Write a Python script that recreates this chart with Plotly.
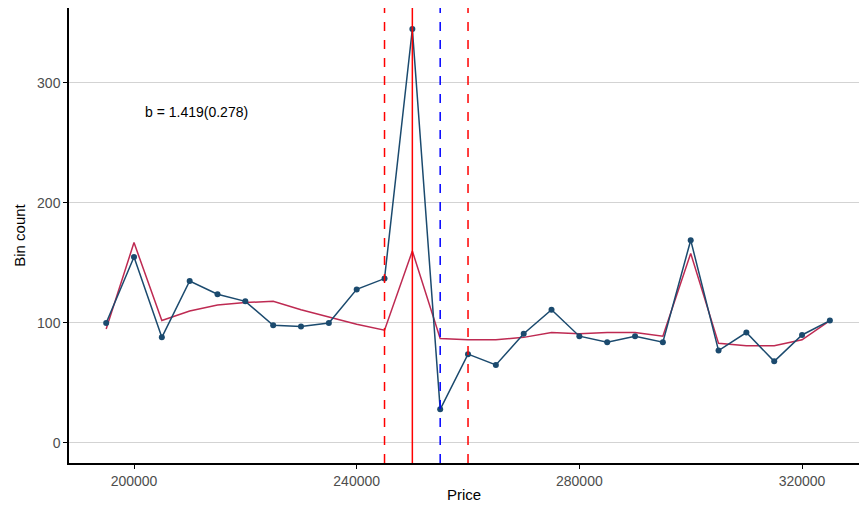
import plotly.graph_objects as go

price = list(range(195000, 330000, 5000))
bin_count = [100, 155, 88, 135, 124, 118, 98, 97, 100, 128, 137, 345, 28, 74, 65,
             91, 111, 89, 84, 89, 84, 169, 77, 92, 68, 90, 102]
fitted = [95, 167, 102, 110, 115, 117, 118, 111, 105, 99, 94, 160, 87, 86, 86,
          88, 92, 91, 92, 92, 89, 158, 83, 81, 81, 86, 102]

fig = go.Figure()
fig.add_trace(go.Scatter(x=price, y=fitted, mode="lines",
                         line=dict(color="#BE2A52", width=1.5), showlegend=False))
fig.add_trace(go.Scatter(x=price, y=bin_count, mode="lines+markers",
                         line=dict(color="#1B4A6E", width=1.5),
                         marker=dict(size=6, color="#1B4A6E"), showlegend=False))

fig.add_vline(x=250000, line=dict(color="red", width=1.5))
fig.add_vline(x=245000, line=dict(color="red", width=1.5, dash="dash"))
fig.add_vline(x=260000, line=dict(color="red", width=1.5, dash="dash"))
fig.add_vline(x=255000, line=dict(color="blue", width=1.5, dash="dash"))

fig.add_annotation(x=211300, y=276, text="b = 1.419(0.278)", showarrow=False,
                   font=dict(size=14, color="black"))

fig.update_layout(
    width=859, height=512,
    margin=dict(l=69, r=0, t=8, b=49, autoexpand=False),
    plot_bgcolor="white", paper_bgcolor="white",
    font=dict(family="Liberation Sans, Arial", size=14, color="#4d4d4d"),
)
fig.update_xaxes(range=[188324, 330230], tickvals=[200000, 240000, 280000, 320000],
                 ticktext=["200000", "240000", "280000", "320000"], automargin=False,
                 showgrid=False, zeroline=False, showline=True, linecolor="black",
                 linewidth=1.5, ticks="outside", ticklen=4, tickcolor="black",
                 title=dict(text="Price", font=dict(color="black", size=15), standoff=2))
fig.update_yaxes(range=[-16.7, 362.5], tickvals=[0, 100, 200, 300], automargin=False,
                 showgrid=True, gridcolor="#d3d3d3", gridwidth=1, zeroline=False,
                 showline=True, linecolor="black", linewidth=1.5,
                 ticks="outside", ticklen=4, tickcolor="black",
                 title=dict(text="Bin count", font=dict(color="black", size=15), standoff=8))

fig.write_html(
    "out.html",
    config={"displayModeBar": False},
    post_script="document.body.style.margin='0';document.body.style.overflow='hidden';"
                "Plotly.relayout('{plot_id}', {width: 859, height: 512});",
)
